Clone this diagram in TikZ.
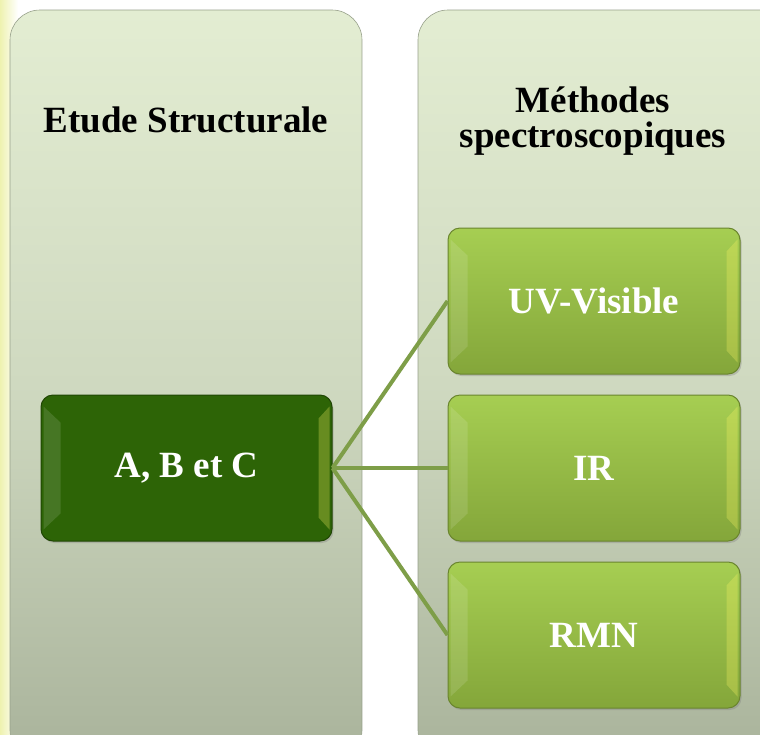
\documentclass[tikz,border=0pt]{standalone}
\usepackage{fontspec}
\setmainfont{Liberation Serif}
\usetikzlibrary{shadows}
\definecolor{paneltop}{HTML}{E3EDD2}
\definecolor{panelmid}{HTML}{CFD9C0}
\definecolor{panelbot}{HTML}{A9B39B}
\definecolor{darkgreen}{HTML}{2D6406}
\definecolor{lighttop}{HTML}{A6CE52}
\definecolor{lightbot}{HTML}{84A63A}
\definecolor{linkgreen}{HTML}{7E9E48}
\definecolor{edgeyellow}{HTML}{EEF2B0}
\tikzset{
  panel/.style={rounded corners=30pt, top color=paneltop, bottom color=panelbot, middle color=panelmid, draw=panelbot!90!black, line width=0.6pt},
  title/.style={font=\bfseries\fontsize{37}{37}\selectfont, text=black, align=center},
  darkbox/.style={rounded corners=12pt, fill=darkgreen, draw=darkgreen!70!black, line width=1pt,
     minimum width=291pt, minimum height=146pt, font=\bfseries\fontsize{37}{37}\selectfont, text=white,
     drop shadow={shadow xshift=1.5pt, shadow yshift=-2pt, opacity=0.35}},
  lightbox/.style={rounded corners=12pt, top color=lighttop, bottom color=lightbot, draw=lightbot!80!black, line width=1pt,
     minimum width=292pt, minimum height=146pt, font=\bfseries\fontsize{37}{37}\selectfont, text=white,
     drop shadow={shadow xshift=1.5pt, shadow yshift=-2pt, opacity=0.35}},
  link/.style={draw=linkgreen, line width=4pt},
  bevelL/.style={fill=white, fill opacity=0.12, draw=none},
  bevelR/.style={fill=yellow!60!white, fill opacity=0.28, draw=none}
}
\newcommand{\mybevel}[1]{%
  \path[bevelL] ([xshift=3pt,yshift=-12pt]#1.north west) -- ([xshift=20pt,yshift=-28pt]#1.north west)
     -- ([xshift=20pt,yshift=28pt]#1.south west) -- ([xshift=3pt,yshift=12pt]#1.south west) -- cycle;
  \path[bevelR] ([xshift=-3pt,yshift=-12pt]#1.north east) -- ([xshift=-14pt,yshift=-24pt]#1.north east)
     -- ([xshift=-14pt,yshift=24pt]#1.south east) -- ([xshift=-3pt,yshift=12pt]#1.south east) -- cycle;
}
\begin{document}
\begin{tikzpicture}[x=1pt,y=-1pt]
\useasboundingbox (0,0) rectangle (760,734);
\fill[white] (0,0) rectangle (760,734);
\shade[left color=edgeyellow, right color=white] (0,0) rectangle (18,734);
% panels
\path[panel] (10,10) rectangle (362,760);
\path[panel] (418,10) rectangle (790,760);
\node[title] (t1) at (186,120) {Etude Structurale};
\node[title] (t2) at (593,121) {Méthodes\\[-2pt]spectroscopiques};
% nodes
\node[darkbox] (abc) at (186.5,468) {A, B et C};
\node[lightbox] (uv) at (594,301) {UV-Visible};
\node[lightbox] (ir) at (594,468) {IR};
\node[lightbox] (rmn) at (594,635) {RMN};
\mybevel{abc}
\mybevel{uv}
\mybevel{ir}
\mybevel{rmn}
% connectors
\draw[link] (abc.east) -- (uv.west);
\draw[link] (abc.east) -- (ir.west);
\draw[link] (abc.east) -- (rmn.west);
\end{tikzpicture}
\end{document}
